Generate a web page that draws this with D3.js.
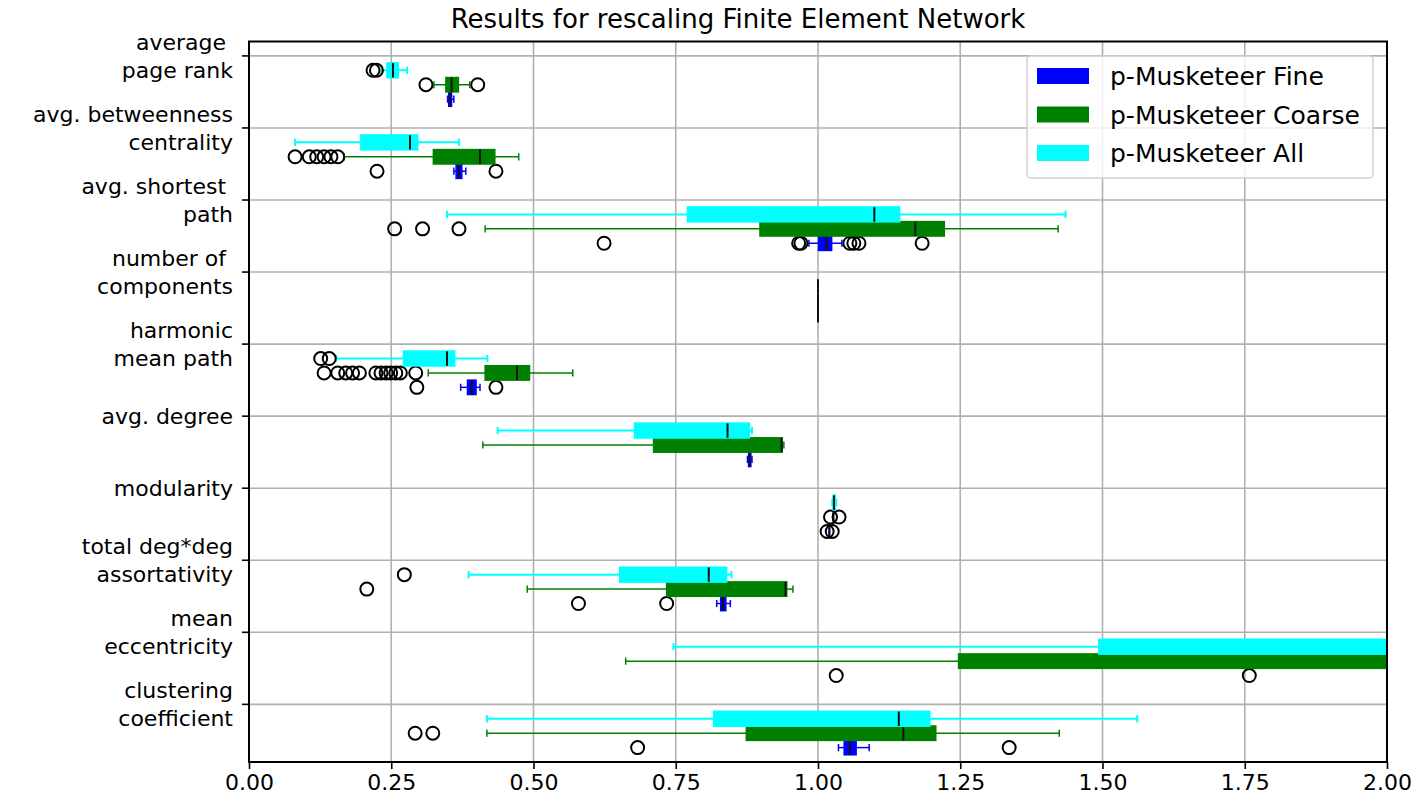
<!DOCTYPE html>
<html>
<head>
<meta charset="utf-8">
<script src="https://cdn.jsdelivr.net/npm/d3@7"></script>
<style>
  body { margin: 0; background: #fff; }
  text { font-family: "DejaVu Sans", sans-serif; fill: #000; white-space: pre; }
</style>
</head>
<body>
<div id="chart"></div>
<script>
// category labels, one entry per line of the tick label
var categories = [
  ["average ", "page rank"],
  ["avg. betweenness", "centrality"],
  ["avg. shortest ", "path"],
  ["number of ", "components"],
  ["harmonic", "mean path"],
  ["avg. degree"],
  ["modularity"],
  ["total deg*deg", "assortativity"],
  ["mean", "eccentricity"],
  ["clustering", "coefficient"]
];

var seriesNames = ["p-Musketeer Fine", "p-Musketeer Coarse", "p-Musketeer All"];
var xTicks = [0, 0.25, 0.5, 0.75, 1.0, 1.25, 1.5, 1.75, 2.0];

// [lower whisker, q1, median, q3, upper whisker]
var fineStats = [
  [0.349, 0.351, 0.353, 0.356, 0.360],
  [0.360, 0.364, 0.369, 0.374, 0.381],
  [0.984, 1.001, 1.015, 1.024, 1.042],
  [1.000, 1.000, 1.000, 1.000, 1.000],
  [0.372, 0.384, 0.391, 0.399, 0.406],
  [0.876, 0.878, 0.880, 0.882, 0.884],
  [1.020, 1.020, 1.020, 1.020, 1.020],
  [0.822, 0.829, 0.833, 0.838, 0.846],
  [2.300, 2.400, 2.450, 2.500, 2.600],
  [1.036, 1.046, 1.056, 1.067, 1.090]
];
var coarseStats = [
  [0.325, 0.346, 0.356, 0.368, 0.388],
  [0.167, 0.324, 0.406, 0.432, 0.474],
  [0.415, 0.898, 1.171, 1.222, 1.422],
  [1.000, 1.000, 1.000, 1.000, 1.000],
  [0.315, 0.415, 0.471, 0.493, 0.569],
  [0.411, 0.711, 0.936, 0.937, 0.940],
  [1.027, 1.027, 1.027, 1.027, 1.027],
  [0.489, 0.734, 0.943, 0.945, 0.956],
  [0.662, 1.247, 2.300, 2.600, 3.200],
  [0.418, 0.874, 1.150, 1.207, 1.424]
];
var allStats = [
  [0.233, 0.243, 0.253, 0.262, 0.278],
  [0.081, 0.197, 0.283, 0.296, 0.369],
  [0.348, 0.771, 1.099, 1.143, 1.435],
  [1.000, 1.000, 1.000, 1.000, 1.000],
  [0.153, 0.272, 0.348, 0.361, 0.419],
  [0.437, 0.678, 0.841, 0.879, 0.884],
  [1.025, 1.027, 1.028, 1.030, 1.032],
  [0.386, 0.652, 0.808, 0.839, 0.848],
  [0.746, 1.494, 2.200, 2.500, 3.100],
  [0.418, 0.817, 1.142, 1.196, 1.561]
];

var fineFliers = [
  [], [0.225, 0.434], [0.624, 0.966, 0.970, 1.056, 1.063, 1.072, 1.183], [],
  [0.295, 0.434], [], [1.016, 1.025], [0.579, 0.734], [1.032, 1.758], [0.683, 1.336]
];
var coarseFliers = [
  [0.311, 0.402],
  [0.081, 0.106, 0.119, 0.132, 0.144, 0.156],
  [0.256, 0.305, 0.369],
  [],
  [0.132, 0.156, 0.170, 0.182, 0.194, 0.223, 0.232, 0.241, 0.249, 0.258, 0.266, 0.293],
  [], [1.022, 1.037], [0.207], [], [0.292, 0.323]
];
var allFliers = [
  [0.218, 0.224], [], [], [], [0.126, 0.141], [], [], [0.273], [], []
];

var W = 1415, H = 802;
var margin = {left: 249, right: 28, top: 41.5, bottom: 40};

var x = d3.scaleLinear().domain([0, 2]).range([margin.left, W - margin.right]);
var y = d3.scaleLinear().domain([-0.2, 9.8]).range([margin.top, H - margin.bottom]);

var series = [
  {name: seriesNames[0], color: "#0000ff", stats: fineStats, fliers: fineFliers, off: 0.6, sw: 1.5},
  {name: seriesNames[1], color: "#008000", stats: coarseStats, fliers: coarseFliers, off: 0.4, sw: 1.5},
  {name: seriesNames[2], color: "#00ffff", stats: allStats, fliers: allFliers, off: 0.2, sw: 2}
];

var svg = d3.select("#chart").append("svg")
  .attr("width", W)
  .attr("height", H);

svg.append("defs").append("clipPath")
    .attr("id", "clip")
  .append("rect")
    .attr("x", x(0)).attr("y", y(-0.2))
    .attr("width", x(2) - x(0)).attr("height", y(9.8) - y(-0.2));

// grid
var grid = svg.append("g").attr("stroke", "#b0b0b0").attr("stroke-width", 1.6);
grid.selectAll("line.vx").data(xTicks).enter().append("line")
  .attr("x1", d => x(d)).attr("x2", d => x(d))
  .attr("y1", y(-0.2)).attr("y2", y(9.8));
grid.selectAll("line.hy").data(d3.range(categories.length)).enter().append("line")
  .attr("x1", x(0)).attr("x2", x(2))
  .attr("y1", d => y(d)).attr("y2", d => y(d));

var plot = svg.append("g").attr("clip-path", "url(#clip)");
var bh = y(0.2) - y(0);   // box height
var ch = bh / 2;          // cap length

series.forEach(function (s) {
  var g = plot.append("g");
  s.stats.forEach(function (st, i) {
    var cy = y(i + s.off);
    // whiskers
    g.append("line").attr("x1", x(st[0])).attr("x2", x(st[1]))
      .attr("y1", cy).attr("y2", cy).attr("stroke", s.color).attr("stroke-width", s.sw);
    g.append("line").attr("x1", x(st[3])).attr("x2", x(st[4]))
      .attr("y1", cy).attr("y2", cy).attr("stroke", s.color).attr("stroke-width", s.sw);
    // caps
    [st[0], st[4]].forEach(function (v) {
      g.append("line").attr("x1", x(v)).attr("x2", x(v))
        .attr("y1", cy - ch / 2).attr("y2", cy + ch / 2)
        .attr("stroke", s.color).attr("stroke-width", s.sw);
    });
    // box
    g.append("rect")
      .attr("x", x(st[1])).attr("y", cy - bh / 2)
      .attr("width", x(st[3]) - x(st[1])).attr("height", bh)
      .attr("fill", s.color).attr("stroke", s.color).attr("stroke-width", s.sw);
    // median
    g.append("line").attr("x1", x(st[2])).attr("x2", x(st[2]))
      .attr("y1", cy - bh / 2).attr("y2", cy + bh / 2)
      .attr("stroke", "#111").attr("stroke-width", 2);
    // fliers
    g.selectAll(null).data(s.fliers[i]).enter().append("circle")
      .attr("cx", d => x(d)).attr("cy", cy).attr("r", 6.5)
      .attr("fill", "none").attr("stroke", "#000").attr("stroke-width", 2);
  });
});

// spines
svg.append("rect")
  .attr("x", x(0)).attr("y", y(-0.2))
  .attr("width", x(2) - x(0)).attr("height", y(9.8) - y(-0.2))
  .attr("fill", "none").attr("stroke", "#000").attr("stroke-width", 2);

// x axis
var xAxis = svg.append("g")
  .attr("transform", "translate(0," + y(9.8) + ")")
  .call(d3.axisBottom(x).tickValues(xTicks).tickFormat(d3.format(".2f")).tickSize(7).tickPadding(5));
xAxis.select(".domain").remove();
xAxis.selectAll("line").attr("stroke-width", 1.6);
xAxis.selectAll("text").attr("font-size", 22).attr("font-family", "DejaVu Sans");

// y axis ticks
svg.append("g").selectAll("line").data(d3.range(categories.length)).enter().append("line")
  .attr("x1", x(0) - 7).attr("x2", x(0))
  .attr("y1", d => y(d)).attr("y2", d => y(d))
  .attr("stroke", "#000").attr("stroke-width", 1.6);

var ylab = svg.append("g").selectAll("text").data(categories).enter().append("text")
  .attr("text-anchor", "end")
  .attr("font-size", 22)
  .attr("x", x(0) - 16)
  .attr("y", (d, i) => y(i));
ylab.each(function (lines) {
  var t = d3.select(this);
  var lh = 28;
  var y0 = -(lines.length - 1) * lh / 2;
  lines.forEach(function (ln, k) {
    t.append("tspan")
      .attr("x", x(0) - 16)
      .attr("dy", k === 0 ? (y0 + 8) : lh)
      .text(ln);
  });
});

// title
svg.append("text")
  .attr("x", 738)
  .attr("y", 28)
  .attr("text-anchor", "middle")
  .attr("font-size", 26)
  .text("Results for rescaling Finite Element Network");

// legend
var leg = svg.append("g").attr("transform", "translate(1027,56)");
leg.append("rect")
  .attr("width", 346).attr("height", 122).attr("rx", 4)
  .attr("fill", "#fff").attr("fill-opacity", 0.8)
  .attr("stroke", "#d0d0d0").attr("stroke-width", 1.5);
series.forEach(function (s, i) {
  var ly = 20 + i * 38.5;
  leg.append("rect")
    .attr("x", 10).attr("y", ly - 8)
    .attr("width", 52).attr("height", 16)
    .attr("fill", s.color);
  leg.append("text")
    .attr("x", 83).attr("y", ly + 9)
    .attr("font-size", 25)
    .text(s.name);
});
</script>
</body>
</html>
